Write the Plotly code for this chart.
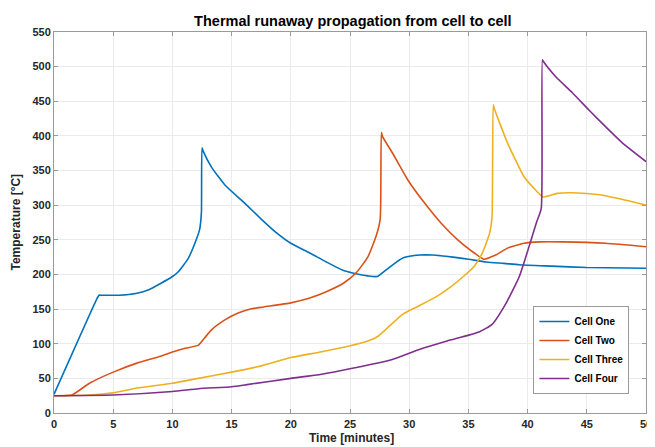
import plotly.graph_objects as go

# Cell One
t1 = [0, 3.6, 3.8, 4.0, 5.5, 7, 8, 9, 10, 10.5, 11.3, 11.9, 12.3, 12.45, 12.5, 12.6, 13.3, 14.5, 16.1, 17.5, 18.8,
      20, 21.6, 23, 24.4, 25.5, 26.5, 27.3, 28.3, 29.5, 30.9, 32, 33.7, 35, 36.5, 38, 39.3, 42, 45, 50]
y1 = [27, 164, 170, 170, 170, 173, 178, 187, 197, 204, 222, 245, 265, 290, 383, 378, 355, 328, 303, 280, 260,
      245, 231, 218, 206, 201, 198, 197, 210, 224, 228, 228, 225, 222, 218, 216, 214, 212, 210, 209]

# Cell Two
t2 = [0, 1.5, 3, 5, 7, 9, 10, 11, 12.2, 12.7, 13.3, 14.4, 15.5, 16.6, 17.7, 20, 21.6, 23, 24.5, 25.5, 26.5, 27.2,
      27.55, 27.65, 27.75, 28.6, 29.9, 31.3, 32.7, 34.1, 35.5, 36.3, 37.3, 38.3, 39.7, 41, 43, 46.6, 50]
y2 = [25, 26, 43, 59, 72, 82, 88, 93, 98, 108, 120, 134, 144, 150, 153, 159, 166, 175, 188, 202, 225, 255,
      280, 405, 399, 375, 336, 303, 274, 250, 231, 222, 228, 238, 245, 247, 247, 245, 240]

# Cell Three
t3 = [0, 3, 5, 7, 10, 12.2, 15, 17.5, 20, 22.5, 25, 26.5, 27.3, 28.3, 29.5, 30.5, 32.3, 33.5, 34.5, 35.5, 36.2,
      36.8, 37.0, 37.1, 37.2, 38.3, 39.7, 40.5, 41.3, 42.5, 43.8, 46.1, 48.3, 50]
y3 = [25, 26, 29, 36, 43, 50, 59, 68, 80, 88, 97, 104, 110, 125, 143, 152, 168, 182, 196, 212, 232,
      260, 285, 445, 439, 390, 341, 325, 312, 317, 318, 315, 307, 300]

# Cell Four
t4 = [0, 5, 10, 12.2, 15, 16.3, 20, 22.6, 25.3, 28.5, 30.9, 33.2, 35.9, 37.0, 38.2, 39.3, 40.3, 40.75, 41.15,
      41.25, 41.35, 42.4, 43.8, 45.2, 46.6, 48, 50]
y4 = [25, 26, 31, 35, 38, 41, 50, 56, 65, 77, 92, 104, 117, 128, 159, 197, 250, 275, 295,
      510, 507, 485, 462, 437, 413, 390, 363]

names = ["Cell One", "Cell Two", "Cell Three", "Cell Four"]
colors = ["#0072BD", "#D95319", "#EDB120", "#7E2F8E"]
x_ticks = list(range(0, 51, 5))
y_ticks = list(range(0, 551, 50))

fig = go.Figure()
for t, y, n, c in zip([t1, t2, t3, t4], [y1, y2, y3, y4], names, colors):
    fig.add_trace(go.Scatter(x=t, y=y, mode="lines", name=n,
                             line=dict(color=c, width=1.6, shape="spline", smoothing=0.5)))

font = "Liberation Sans, Arial, sans-serif"
axis_common = dict(showgrid=True, gridcolor="#ebebeb", gridwidth=1, zeroline=False,
                   showline=True, linecolor="#9a9a9a", linewidth=1, mirror="ticks",
                   ticks="inside", ticklen=4, tickcolor="#9a9a9a",
                   tickfont=dict(family=font, size=11, color="#262626", weight="bold"))

fig.update_layout(
    width=647, height=439,
    margin=dict(l=46, r=3, t=24, b=34),
    paper_bgcolor="white", plot_bgcolor="white",
    title=dict(text="<b>Thermal runaway propagation from cell to cell</b>",
               x=0.533, xanchor="center", y=0.970, yanchor="middle",
               font=dict(family=font, size=14.5, color="#000000")),
    xaxis=dict(range=[0, 50], tickvals=x_ticks, ticklabelstandoff=1,
               ticklabeloverflow="allow", **axis_common),
    yaxis=dict(range=[0, 550], tickvals=y_ticks, **axis_common),
    legend=dict(x=0.972, xanchor="right", y=0.05, yanchor="bottom",
                bgcolor="white", bordercolor="#9a9a9a", borderwidth=1,
                font=dict(family=font, size=10, color="#000000", weight="bold"),
                tracegroupgap=0, itemwidth=30),
    showlegend=True,
    annotations=[
        dict(text="<b>Time [minutes]</b>", xref="paper", yref="paper", x=0.503, y=0,
             xanchor="center", yanchor="middle", yshift=-25, showarrow=False,
             font=dict(family=font, size=12, color="#262626")),
        dict(text="<b>Temperature [°C]</b>", xref="paper", yref="paper", x=0, y=0.5,
             xanchor="center", yanchor="middle", xshift=-39, textangle=-90, showarrow=False,
             font=dict(family=font, size=12, color="#262626")),
    ],
)

fig.write_html("out.html")
